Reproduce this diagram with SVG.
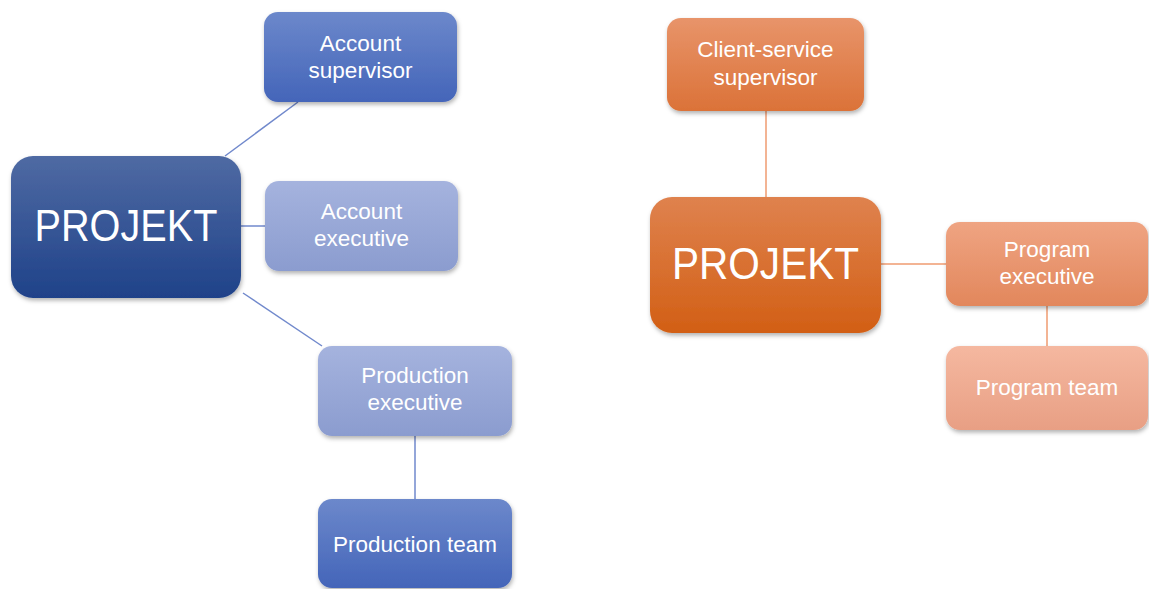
<svg xmlns="http://www.w3.org/2000/svg" width="1149" height="589" viewBox="0 0 1149 589">
<style>
text{font-family:"Liberation Sans",Arial,sans-serif;fill:#ffffff;text-anchor:middle}
.s{font-size:22.5px}
.b{font-size:44px}
.cb{stroke:#7189cc;stroke-width:1.5;fill:none}
.co{stroke:#ef9b70;stroke-width:1.5;fill:none}
</style>
<defs>
<filter id="sh" x="-10%" y="-10%" width="125%" height="130%">
<feDropShadow dx="1" dy="2.5" stdDeviation="2" flood-color="#000" flood-opacity="0.3"/>
</filter>
<linearGradient id="gBigB" x1="0" y1="0" x2="0" y2="1"><stop offset="0" stop-color="#4f6aa3"/><stop offset="1" stop-color="#1f4289"/></linearGradient>
<linearGradient id="gMidB" x1="0" y1="0" x2="0" y2="1"><stop offset="0" stop-color="#6c88cb"/><stop offset="1" stop-color="#4465b9"/></linearGradient>
<linearGradient id="gLtB" x1="0" y1="0" x2="0" y2="1"><stop offset="0" stop-color="#a5b3de"/><stop offset="1" stop-color="#8b9ccf"/></linearGradient>
<linearGradient id="gBigO" x1="0" y1="0" x2="0" y2="1"><stop offset="0" stop-color="#df824e"/><stop offset="1" stop-color="#d25f15"/></linearGradient>
<linearGradient id="gMidO" x1="0" y1="0" x2="0" y2="1"><stop offset="0" stop-color="#e8946a"/><stop offset="1" stop-color="#db7238"/></linearGradient>
<linearGradient id="gLtO" x1="0" y1="0" x2="0" y2="1"><stop offset="0" stop-color="#efa482"/><stop offset="1" stop-color="#e2875c"/></linearGradient>
<linearGradient id="gXltO" x1="0" y1="0" x2="0" y2="1"><stop offset="0" stop-color="#f5b8a0"/><stop offset="1" stop-color="#e89f84"/></linearGradient>
</defs>
<g id="connectors">
<line class="cb" x1="225" y1="156" x2="298" y2="102"/>
<line class="cb" x1="241" y1="226" x2="265" y2="226"/>
<line class="cb" x1="243" y1="293" x2="322" y2="346"/>
<line class="cb" x1="415" y1="436" x2="415" y2="499"/>
<line class="co" x1="766" y1="111" x2="766" y2="197"/>
<line class="co" x1="881" y1="264" x2="946" y2="264"/>
<line class="co" x1="1047" y1="306" x2="1047" y2="346"/>
</g>
<g id="projekt-left">
<rect x="11" y="156" width="230" height="142" rx="22" fill="url(#gBigB)" filter="url(#sh)"/>
<text class="b" x="126" y="241" textLength="183" lengthAdjust="spacingAndGlyphs">PROJEKT</text>
</g>
<g id="account-supervisor">
<rect x="264" y="12" width="193" height="90" rx="14" fill="url(#gMidB)" filter="url(#sh)"/>
<text class="s" x="360.5" y="51">Account</text>
<text class="s" x="360.5" y="78">supervisor</text>
</g>
<g id="account-executive">
<rect x="265" y="181" width="193" height="90" rx="14" fill="url(#gLtB)" filter="url(#sh)"/>
<text class="s" x="361.5" y="219">Account</text>
<text class="s" x="361.5" y="246">executive</text>
</g>
<g id="production-executive">
<rect x="318" y="346" width="194" height="90" rx="14" fill="url(#gLtB)" filter="url(#sh)"/>
<text class="s" x="415" y="383">Production</text>
<text class="s" x="415" y="410">executive</text>
</g>
<g id="production-team">
<rect x="318" y="499" width="194" height="89" rx="14" fill="url(#gMidB)" filter="url(#sh)"/>
<text class="s" x="415" y="552">Production team</text>
</g>
<g id="client-service-supervisor">
<rect x="667" y="18" width="197" height="93" rx="14" fill="url(#gMidO)" filter="url(#sh)"/>
<text class="s" x="765.5" y="57">Client-service</text>
<text class="s" x="765.5" y="85">supervisor</text>
</g>
<g id="projekt-right">
<rect x="650" y="197" width="231" height="136" rx="22" fill="url(#gBigO)" filter="url(#sh)"/>
<text class="b" x="765.5" y="279" textLength="187" lengthAdjust="spacingAndGlyphs">PROJEKT</text>
</g>
<g id="program-executive">
<rect x="946" y="222" width="202" height="84" rx="14" fill="url(#gLtO)" filter="url(#sh)"/>
<text class="s" x="1047" y="257">Program</text>
<text class="s" x="1047" y="284">executive</text>
</g>
<g id="program-team">
<rect x="946" y="346" width="202" height="84" rx="14" fill="url(#gXltO)" filter="url(#sh)"/>
<text class="s" x="1047" y="395">Program team</text>
</g>
</svg>
